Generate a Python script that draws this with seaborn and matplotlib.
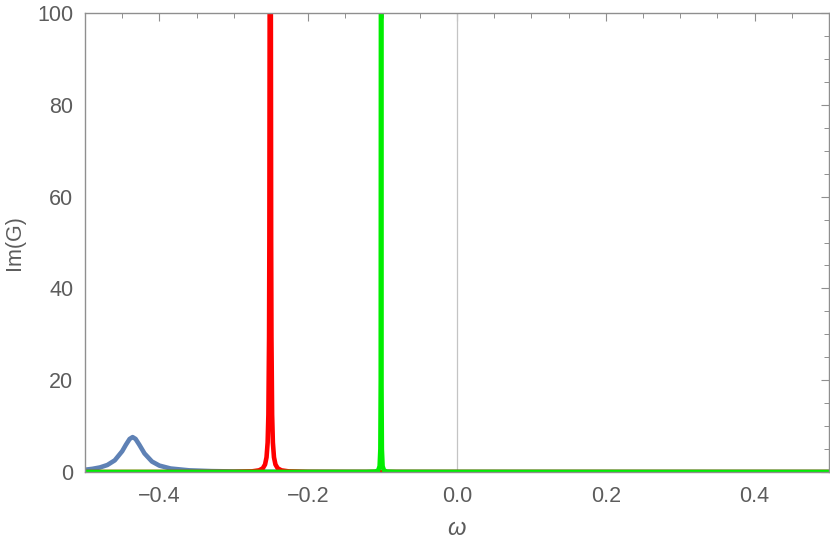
import numpy as np
import pandas as pd
import seaborn as sns
import matplotlib.pyplot as plt
from matplotlib.ticker import MultipleLocator

# Peak data (Im(G) vs omega)
blue_x = [-0.5, -0.49, -0.48, -0.47, -0.46, -0.45, -0.445, -0.44, -0.436, -0.432,
          -0.427, -0.42, -0.41, -0.40, -0.385, -0.36, -0.33, -0.30, -0.25, -0.20,
          -0.10, 0.0, 0.25, 0.5]
blue_y = [0.49, 0.69, 0.99, 1.52, 2.54, 4.53, 5.94, 7.2, 7.6, 7.2,
          5.94, 4.03, 2.28, 1.39, 0.76, 0.36, 0.19, 0.12, 0.06, 0.04,
          0.02, 0.01, 0.005, 0.003]

red_x = [-0.5, -0.351, -0.301, -0.276, -0.266, -0.261, -0.258, -0.256, -0.2545,
         -0.2535, -0.2526, -0.2522, -0.2518, -0.2514, -0.251, -0.2506, -0.2502,
         -0.2498, -0.2494, -0.2485, -0.2475, -0.246, -0.244, -0.241, -0.236,
         -0.226, -0.201, -0.151, 0.5]
red_y = [0.0, 0.008, 0.03, 0.13, 0.36, 0.8, 1.63, 3.2, 6.45,
         12.5, 29.4, 50, 100, 250, 500, 250, 100,
         50, 29.4, 12.5, 6.45, 3.2, 1.63, 0.8, 0.36,
         0.13, 0.03, 0.008, 0.0]

green_x = [-0.5, -0.122, -0.110, -0.106, -0.104, -0.103, -0.1025, -0.1022, -0.102,
           -0.1018, -0.1015, -0.101, -0.100, -0.098, -0.094, -0.082, 0.5]
green_y = [0.0, 0.0125, 0.08, 0.31, 1.25, 5, 20, 125, 800,
           125, 20, 5, 1.25, 0.31, 0.08, 0.0125, 0.0]

x_ticks = [-0.4, -0.2, 0.0, 0.2, 0.4]
x_ticklabels = ["\u22120.4", "\u22120.2", "0.0", "0.2", "0.4"]
y_ticks = [0, 20, 40, 60, 80, 100]

sns.set_style("white")
plt.rcParams['font.family'] = ['Liberation Sans', 'DejaVu Sans']
plt.rcParams['mathtext.fontset'] = 'custom'
plt.rcParams['mathtext.rm'] = 'Liberation Sans'
plt.rcParams['mathtext.it'] = 'Liberation Sans:italic'

frame_col = '#8f8f8f'
text_col = '#5c5c5c'

fig = plt.figure(figsize=(8.3, 5.47), dpi=100)
ax = fig.add_axes([85 / 830, 75 / 547, 744 / 830, 459 / 547])

ax.axvline(0, color='#c4c4c4', lw=0.9, zorder=1)

blue_df = pd.DataFrame({'omega': blue_x, 'ImG': blue_y})
red_df = pd.DataFrame({'omega': red_x, 'ImG': red_y})
green_df = pd.DataFrame({'omega': green_x, 'ImG': green_y})

sns.lineplot(data=blue_df, x='omega', y='ImG', color='#5e81b5', lw=3.3, ax=ax,
             sort=False, estimator=None)
sns.lineplot(data=red_df, x='omega', y='ImG', color='#ff0000', lw=3.3, ax=ax,
             sort=False, estimator=None)
sns.lineplot(data=green_df, x='omega', y='ImG', color='#00ee00', lw=3.3, ax=ax,
             sort=False, estimator=None)

ax.set_xlim(-0.5, 0.5)
ax.set_ylim(0, 100)
ax.set_xticks(x_ticks)
ax.set_xticklabels(x_ticklabels)
ax.set_yticks(y_ticks)
ax.xaxis.set_minor_locator(MultipleLocator(0.05))
ax.yaxis.set_minor_locator(MultipleLocator(5))

for side in ['left', 'right', 'top', 'bottom']:
    ax.spines[side].set_visible(True)
    ax.spines[side].set_color(frame_col)
    ax.spines[side].set_linewidth(1.0)

ax.tick_params(which='major', direction='in', length=6, width=0.8, color=frame_col,
               top=True, right=True, labelsize=15.5, labelcolor=text_col)
ax.tick_params(which='minor', direction='in', length=3.5, width=0.7, color=frame_col,
               top=True, right=True)
ax.tick_params(axis='x', which='major', pad=10)
ax.tick_params(axis='y', which='major', pad=8.5)

ax.set_xlabel(r'$\omega$', fontsize=17, color=text_col, labelpad=8)
ax.set_ylabel('Im(G)', fontsize=15.5, color=text_col, labelpad=9)

fig.savefig('out.png', dpi=100)
